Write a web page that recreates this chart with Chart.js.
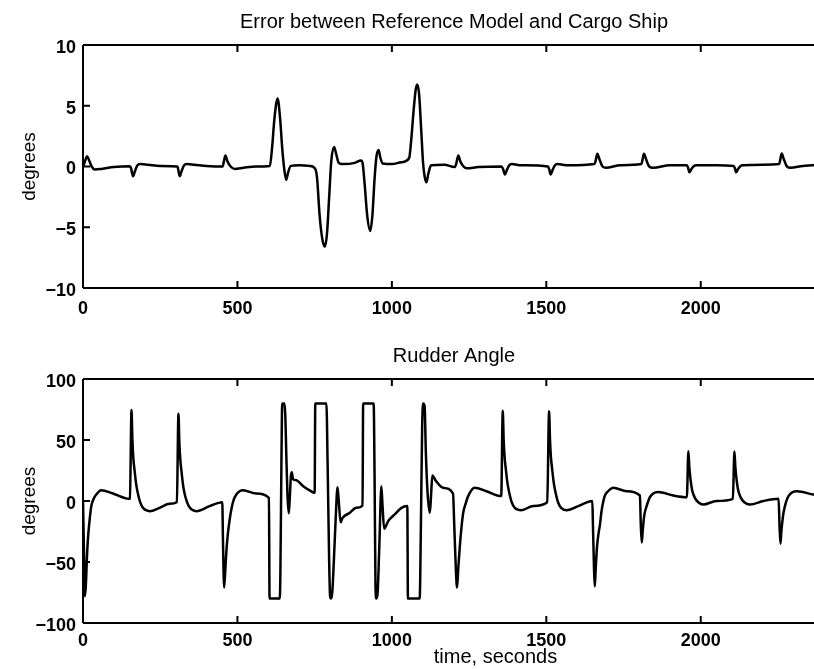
<!DOCTYPE html>
<html>
<head>
<meta charset="utf-8">
<script src="https://cdn.jsdelivr.net/npm/chart.js@4.4.1/dist/chart.umd.min.js"></script>
<style>
  html, body { margin: 0; padding: 0; background: #fff; overflow: hidden; }
  #wrap { position: relative; width: 908px; height: 669px; }
  canvas { position: absolute; left: 0; display: block; }
  #errCanvas { top: 0; }
  #rudCanvas { top: 330px; }
</style>
</head>
<body>
<div id="wrap">
  <canvas id="errCanvas" width="908" height="330"></canvas>
  <canvas id="rudCanvas" width="908" height="339"></canvas>
</div>
<script>
// time axis ticks (seconds)
const timeTicks = [0, 500, 1000, 1500, 2000];
const errTicks = [-10, -5, 0, 5, 10];
const rudTicks = [-100, -50, 0, 50, 100];
// the plot box runs past the right edge of the picture
const timeMax = 2671;

// Error between reference model and cargo ship (degrees)
const errT = [0, 5, 13, 20, 28, 38, 60, 100, 150, 155, 162, 168, 175, 185, 210, 250,
  305, 307, 313, 319, 326, 336, 360, 400, 452, 456, 461, 468, 478, 491, 520, 560,
  605, 612, 620, 630, 638, 645, 652, 658, 664, 673, 700, 735, 752, 758, 766, 775,
  783, 790, 797, 804, 813, 820, 828, 840, 880, 900, 905, 912, 920, 930, 937, 944,
  950, 957, 963, 970, 1000, 1030, 1056, 1062, 1070, 1077, 1082, 1088, 1095, 1101,
  1106, 1112, 1118, 1127, 1170, 1203, 1208, 1215, 1222, 1232, 1242, 1280, 1355,
  1360, 1366, 1372, 1380, 1388, 1420, 1505, 1509, 1514, 1520, 1528, 1536, 1570,
  1656, 1660, 1665, 1672, 1682, 1693, 1740, 1808, 1811, 1816, 1823, 1833, 1846,
  1900, 1955, 1959, 1963, 1970, 1978, 1986, 2050, 2106, 2110, 2114, 2121, 2129,
  2137, 2200, 2254, 2257, 2262, 2269, 2279, 2291, 2330, 2400];
const errV = [0, 0.3, 0.85, 0.5, 0.0, -0.25, -0.2, -0.05, 0.02, -0.1, -0.8, -0.4, 0.05, 0.2, 0.15, 0.05,
  0.0, -0.1, -0.8, -0.4, 0.05, 0.2, 0.15, 0.05, 0.0, 0.4, 0.9, 0.4, 0.0, -0.2, -0.1, 0.0,
  0.05, 1.5, 4.0, 5.6, 4.0, 1.5, -0.3, -1.1, -0.5, 0.05, 0.1, 0.05, -0.2, -1.0, -4.0, -6.0,
  -6.6, -5.5, -2.5, 0.5, 1.6, 1.0, 0.3, 0.2, 0.3, 0.5, 0.3, -1.5, -4.0, -5.3, -4.0, -1.0,
  0.8, 1.35, 0.7, 0.25, 0.2, 0.35, 0.7, 2.0, 4.5, 6.3, 6.75, 6.0, 3.0, 0.3,
  -0.8, -1.3, -0.6, 0.1, 0.15, -0.05, 0.2, 0.9, 0.4, 0.0, -0.15, -0.05, 0.0,
  -0.2, -0.66, -0.3, 0.1, 0.2, 0.1, 0.0, -0.2, -0.66, -0.3, 0.1, 0.2, 0.1,
  0.2, 0.5, 1.05, 0.6, 0.0, -0.1, 0.1, 0.2, 0.5, 1.05, 0.6, 0.0, -0.1,
  0.1, 0.1, -0.1, -0.47, -0.2, 0.05, 0.1, 0.1, 0.05, -0.1, -0.47, -0.2, 0.05,
  0.1, 0.15, 0.2, 0.5, 1.07, 0.6, 0.0, -0.1, 0.05, 0.15];

// Rudder angle (degrees)
const rudT = [0, 3, 6, 9, 13, 16, 22, 27, 35, 43, 59, 95, 149,
  152, 157, 160, 163, 167, 172, 177, 185, 194, 216, 248, 280,
  304, 309, 312, 315, 319, 324, 329, 337, 346, 367, 410, 451,
  453, 457, 461, 464, 469, 475, 481, 488, 497, 507, 518, 561, 602,
  604, 637, 639, 642, 644, 646, 652, 655, 658, 662, 666, 669, 673, 676, 680, 691, 713, 735, 750,
  752, 788, 792, 797, 800, 803, 807, 812, 818, 824, 828, 834, 840, 864, 885, 905,
  907, 941, 944, 947, 950, 954, 959, 966, 970, 975, 988, 1009, 1031, 1050,
  1052, 1090, 1094, 1098, 1101, 1106, 1110, 1116, 1123, 1127, 1131, 1143, 1166, 1198,
  1202, 1207, 1211, 1215, 1220, 1226, 1231, 1239, 1247, 1268, 1306, 1354,
  1359, 1362, 1365, 1369, 1374, 1379, 1388, 1398, 1420, 1458, 1503,
  1509, 1512, 1515, 1519, 1524, 1529, 1538, 1548, 1566, 1605, 1649,
  1651, 1655, 1657, 1660, 1664, 1670, 1673, 1679, 1689, 1700, 1717, 1760, 1803,
  1806, 1809, 1812, 1817, 1825, 1835, 1846, 1862, 1911, 1955,
  1960, 1963, 1967, 1972, 1981, 1992, 2008, 2051, 2104,
  2109, 2112, 2116, 2121, 2130, 2141, 2159, 2203, 2252,
  2255, 2258, 2261, 2265, 2268, 2276, 2284, 2311, 2365, 2400];
const rudV = [0, -40, -78, -70, -45, -31, -14, -4, 2, 5.3, 8.9, 6.4, 1.8,
  2, 74.5, 50, 35, 25, 14, 7, -1, -5.6, -8.3, -5.6, -2.3,
  -1, 71.5, 48, 34, 24, 13, 6, -1, -5.6, -8.3, -4.2, -1,
  -30, -71, -55, -42, -27, -15, -6, 1.2, 5.5, 8, 8.9, 6.1, 2.6,
  -80, -80, -60, 20, 70, 80, 80, 70, 40, 5, -10, 0, 20, 23.6, 18, 17, 12, 8.5, 6.7,
  80, 80, 30, -50, -78, -80, -75, -50, -15, 11.3, 0, -17.4, -14, -9.7, -5.6, -3.7,
  80, 80, 20, -70, -80, -75, -40, 12, -5, -22.8, -16.5, -11, -5.6, -4.2,
  -80, -80, -20, 60, 80, 78, 40, 5, -9.7, 5, 20.9, 16.3, 10.8, 6.1,
  -20, -55, -71, -55, -37, -20, -9.6, -2, 4, 10.8, 8, 4,
  74, 50, 36, 26, 15, 8, -1, -5.6, -7.5, -4, -1,
  73.5, 50, 36, 26, 15, 8, -1, -5.6, -7.5, -4, 0,
  -20, -60, -70, -55, -38, -25, -20.6, -8, 4, 8, 10.8, 8, 4.5,
  -20, -34, -25, -12, -4, 3, 6.1, 7.4, 4.5, 3.1,
  40.8, 28, 17.6, 9, 2.6, -1, -2.9, 0, 1.8,
  40.5, 28, 17.6, 9, 2.6, -1, -2.9, 0, 1.8,
  -20, -35, -25, -15, -9.7, -1, 4, 8, 5.3, 4];

const FONT = "'Liberation Sans', Arial, Helvetica, sans-serif";

function fmt(v) {
  return v < 0 ? '\u2212' + Math.abs(v) : String(v);
}

// matlab-style box: frame lines plus inward tick marks
const boxPlugin = {
  id: 'box',
  afterDatasetsDraw(chart) {
    const { ctx, chartArea: a, scales } = chart;
    const tl = 7;
    ctx.save();
    ctx.strokeStyle = '#000';
    ctx.lineWidth = 2;
    ctx.beginPath();
    ctx.moveTo(a.left, a.top); ctx.lineTo(a.right, a.top);
    ctx.moveTo(a.left, a.top); ctx.lineTo(a.left, a.bottom);
    ctx.moveTo(a.left, a.bottom); ctx.lineTo(a.right, a.bottom);
    scales.x.ticks.forEach(t => {
      const px = scales.x.getPixelForValue(t.value);
      ctx.moveTo(px, a.bottom); ctx.lineTo(px, a.bottom - tl);
      ctx.moveTo(px, a.top); ctx.lineTo(px, a.top + tl);
    });
    scales.y.ticks.forEach(t => {
      const py = scales.y.getPixelForValue(t.value);
      ctx.moveTo(a.left, py); ctx.lineTo(a.left + tl, py);
    });
    ctx.stroke();
    ctx.restore();
  }
};

function makeChart(id, xs, ys, title, yMin, yMax, yTicks, opts) {
  const pts = xs.map((t, i) => ({ x: t, y: ys[i] }));
  return new Chart(document.getElementById(id), {
    type: 'line',
    data: {
      datasets: [{
        data: pts,
        borderColor: '#000',
        borderWidth: 2.5,
        pointRadius: 0,
        cubicInterpolationMode: 'monotone',
        fill: false
      }]
    },
    plugins: [boxPlugin],
    options: {
      responsive: false,
      animation: false,
      layout: { padding: 0 },
      plugins: {
        legend: { display: false },
        tooltip: { enabled: false },
        title: {
          display: true,
          text: title,
          color: '#000',
          font: { family: FONT, size: 20, weight: 'normal' },
          padding: opts.titlePad
        }
      },
      scales: {
        x: {
          type: 'linear',
          min: 0,
          max: timeMax,
          afterBuildTicks: s => { s.ticks = timeTicks.map(v => ({ value: v })); },
          afterFit: s => { s.height = opts.xHeight; },
          grid: { display: false, drawTicks: false },
          border: { display: false },
          ticks: {
            color: '#000',
            padding: opts.xPad,
            maxRotation: 0,
            font: { family: FONT, size: 18, weight: 'bold' },
            callback: v => String(v)
          },
          title: {
            display: !!opts.xTitle,
            text: opts.xTitle || '',
            color: '#000',
            font: { family: FONT, size: 20, weight: 'normal' },
            padding: { top: 0, bottom: 0 }
          }
        },
        y: {
          min: yMin,
          max: yMax,
          afterBuildTicks: s => { s.ticks = yTicks.map(v => ({ value: v })); },
          afterFit: s => { s.width = 83; },
          grid: { display: false, drawTicks: false },
          border: { display: false },
          ticks: {
            color: '#000',
            padding: 7,
            labelOffset: 3,
            font: { family: FONT, size: 18, weight: 'bold' },
            callback: v => fmt(v)
          },
          title: {
            display: true,
            text: 'degrees',
            color: '#000',
            font: { family: FONT, size: 19, weight: 'normal' },
            padding: { top: 18, bottom: 0 }
          }
        }
      }
    }
  });
}

makeChart('errCanvas', errT, errV, 'Error between Reference Model and Cargo Ship', -10, 10, errTicks,
  { titlePad: { top: 10, bottom: 11 }, xHeight: 42, xPad: 10 });
makeChart('rudCanvas', rudT, rudV, 'Rudder Angle', -100, 100, rudTicks,
  { titlePad: { top: 14, bottom: 11 }, xHeight: 46, xPad: 7, xTitle: 'time, seconds' });
</script>
</body>
</html>
